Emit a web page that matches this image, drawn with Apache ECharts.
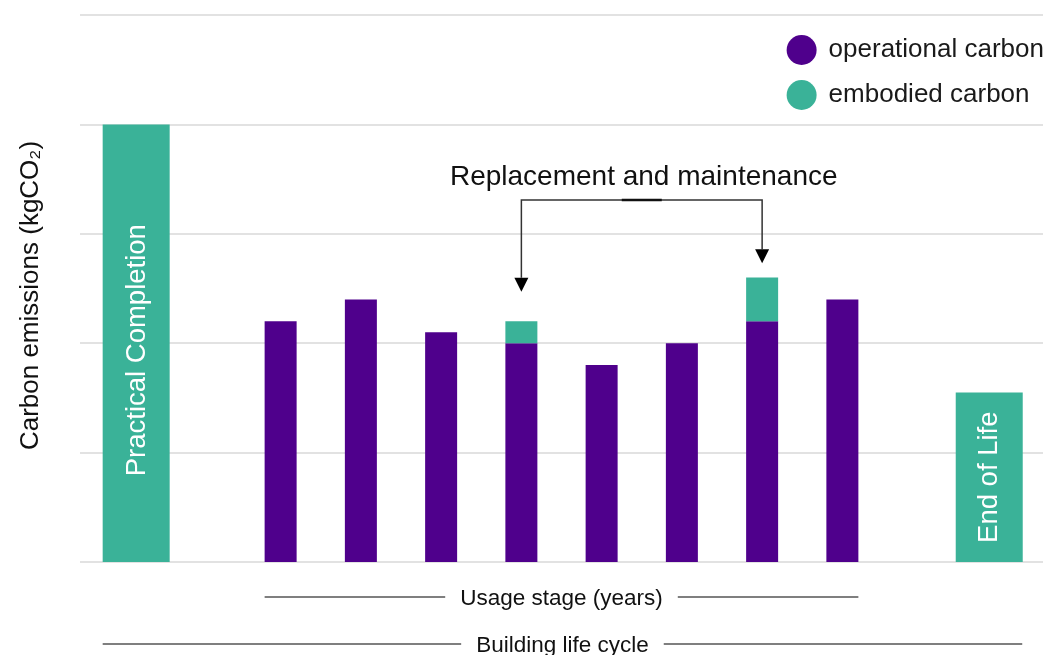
<!DOCTYPE html>
<html>
<head>
<meta charset="utf-8">
<script src="https://cdn.jsdelivr.net/npm/echarts@6/dist/echarts.min.js"></script>
<style>
  html, body { margin: 0; padding: 0; background: #fff; }
  #chart { width: 1048px; height: 655px; }
</style>
</head>
<body>
<div id="chart"></div>
<script>
// ---- data ----
// The x extent is split into 12 equal life-cycle slots; usage years fill slots 2–9
const slotCount = 12;
const usageYears = [1, 2, 3, 4, 5, 6, 7, 8];
const usageSlots = [2, 3, 4, 5, 6, 7, 8, 9];
const operationalCarbon = [2.2, 2.4, 2.1, 2.0, 1.8, 2.0, 2.2, 2.4];
const embodiedUsage = [null, null, null, 0.2, null, null, 0.4, null];
// Start and end of the building's life, on the same 0–12 position scale
const endStages = ['Practical Completion', 'End of Life'];
const endPos = [0.7, 11.33];
const endEmbodied = [4, 1.55];
const yTicks = [0, 1, 2, 3, 4, 5];

const PURPLE = '#4f008c';
const TEAL = '#3ab298';
const FONT = '"Liberation Sans", Arial, sans-serif';

// Per-slot series arrays built from the usage lists
const slotNames = Array.from({ length: slotCount }, (_, i) => 'slot' + i);
function toSlots(values) {
  const out = Array(slotCount).fill(null);
  usageSlots.forEach((s, i) => { out[s] = values[i]; });
  return out;
}

const chart = echarts.init(document.getElementById('chart'));

const hidden = {
  show: false,
  axisLine: { show: false }, axisTick: { show: false },
  axisLabel: { show: false }, splitLine: { show: false }
};

chart.setOption({
  animation: false,
  backgroundColor: '#fff',
  textStyle: { fontFamily: FONT },
  grid: { left: 80, right: 5, top: 15, bottom: 93 },
  legend: {
    data: ['operational carbon', 'embodied carbon'],
    orient: 'vertical',
    right: -1,
    top: 30,
    icon: 'circle',
    itemWidth: 44,
    itemHeight: 30,
    itemGap: 15,
    selectedMode: false,
    textStyle: { fontSize: 26, color: '#1a1a1a', fontFamily: FONT }
  },
  xAxis: [
    Object.assign({ type: 'category', data: slotNames, boundaryGap: true }, hidden),
    Object.assign({ type: 'value', min: 0, max: slotCount }, hidden)
  ],
  yAxis: {
    type: 'value',
    min: yTicks[0],
    max: yTicks[yTicks.length - 1],
    interval: yTicks[1] - yTicks[0],
    name: 'Carbon emissions (kgCO₂)',
    nameLocation: 'middle',
    nameGap: 36,
    nameTextStyle: { fontSize: 26, color: '#111', fontFamily: FONT, padding: [0, 14, 0, 0] },
    axisLine: { show: false },
    axisTick: { show: false },
    axisLabel: { show: false },
    splitLine: { lineStyle: { color: '#e2e2e2', width: 2 } }
  },
  series: [
    {
      name: 'operational carbon',
      type: 'bar',
      stack: 'usage',
      xAxisIndex: 0,
      barWidth: 32,
      itemStyle: { color: PURPLE },
      data: toSlots(operationalCarbon)
    },
    {
      name: 'embodied carbon',
      type: 'bar',
      stack: 'usage',
      xAxisIndex: 0,
      barWidth: 32,
      itemStyle: { color: TEAL },
      data: toSlots(embodiedUsage)
    },
    {
      name: 'embodied carbon',
      type: 'bar',
      xAxisIndex: 1,
      barWidth: 67,
      itemStyle: { color: TEAL },
      label: {
        show: true,
        position: 'inside',
        rotate: 90,
        color: '#fff',
        fontSize: 27.5,
        fontFamily: FONT,
        formatter: p => endStages[p.dataIndex]
      },
      data: endPos.map((x, i) => ({
        value: [x, endEmbodied[i]],
        label: i === 0 ? { offset: [-7, 1] } : {}
      }))
    }
  ]
});

// ---- annotations placed through the axes ----
const pxSlot = s => chart.convertToPixel({ xAxisIndex: 0 }, slotNames[s]);
const pxPos = x => chart.convertToPixel({ xAxisIndex: 1 }, x);
const py = y => chart.convertToPixel({ yAxisIndex: 0 }, y);

const LINE = '#333';
const graphics = [];

// Bracket pointing at the replacement years (years 4 and 7)
const xa = pxSlot(usageSlots[usageYears.indexOf(4)]);
const xb = pxSlot(usageSlots[usageYears.indexOf(7)]);
const yBracket = py(3.31);
const tipA = py(2.47);
const tipB = py(2.73);
const ah = 14, aw = 7;

graphics.push({
  type: 'polyline',
  shape: { points: [[xa, tipA - ah], [xa, yBracket], [xb, yBracket], [xb, tipB - ah]] },
  style: { stroke: LINE, lineWidth: 1.5, fill: null }
});
graphics.push({
  type: 'line',
  shape: { x1: (xa + xb) / 2 - 20, y1: yBracket, x2: (xa + xb) / 2 + 20, y2: yBracket },
  style: { stroke: '#111', lineWidth: 2.5 }
});
[[xa, tipA], [xb, tipB]].forEach(([x, t]) => {
  graphics.push({
    type: 'polygon',
    shape: { points: [[x - aw, t - ah], [x + aw, t - ah], [x, t]] },
    style: { fill: '#000' }
  });
});
graphics.push({
  type: 'text',
  x: (xa + xb) / 2 + 2,
  y: py(3.52),
  style: {
    text: 'Replacement and maintenance',
    font: '28px ' + FONT,
    fill: '#111',
    align: 'center',
    verticalAlign: 'middle'
  }
});

// Span lines under the axis
function span(x1, x2, y, label) {
  graphics.push({
    type: 'line',
    shape: { x1: x1, y1: y, x2: x2, y2: y },
    style: { stroke: '#555', lineWidth: 1.5 }
  });
  graphics.push({
    type: 'text',
    x: (x1 + x2) / 2,
    y: y + 1.5,
    style: {
      text: label,
      font: '22.5px ' + FONT,
      fill: '#111',
      align: 'center',
      verticalAlign: 'middle',
      backgroundColor: '#fff',
      padding: [0, 15]
    }
  });
}
const y0 = py(0);
span(pxSlot(usageSlots[0]) - 16, pxSlot(usageSlots[usageSlots.length - 1]) + 16, y0 + 35, 'Usage stage (years)');
span(pxPos(endPos[0]) - 33.5, pxPos(endPos[1]) + 33, y0 + 82, 'Building life cycle');

chart.setOption({ graphic: graphics });
</script>
</body>
</html>
